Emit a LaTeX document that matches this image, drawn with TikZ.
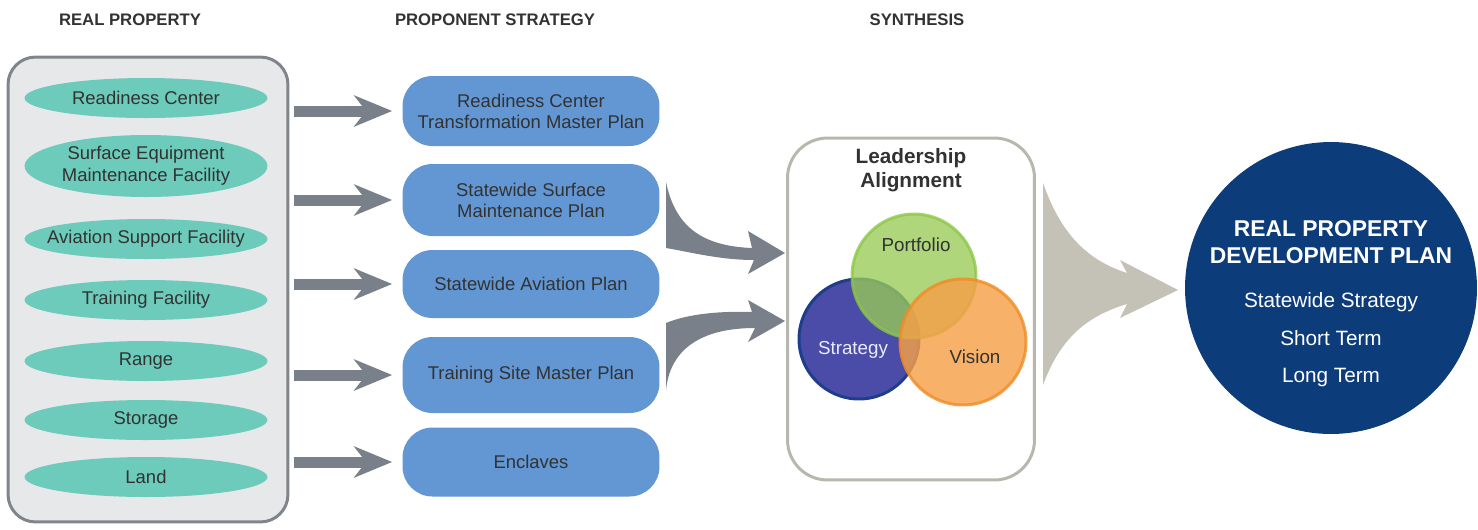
\documentclass[tikz,border=0pt]{standalone}
\usepackage{fontspec}
\setmainfont{Liberation Sans}
\usetikzlibrary{shapes.geometric,arrows.meta}

\definecolor{boxgray}{RGB}{231,232,234}
\definecolor{edgegray}{RGB}{128,133,140}
\definecolor{facteal}{RGB}{108,203,186}
\definecolor{planblue}{RGB}{98,151,212}
\definecolor{arrowgray}{RGB}{122,128,137}
\definecolor{synedge}{RGB}{184,183,174}
\definecolor{beige}{RGB}{196,194,182}
\definecolor{navy}{RGB}{13,60,122}
\definecolor{portfill}{RGB}{152,202,86}
\definecolor{portedge}{RGB}{140,198,70}
\definecolor{stratfill}{RGB}{74,76,168}
\definecolor{stratedge}{RGB}{30,62,140}
\definecolor{visfill}{RGB}{246,160,72}
\definecolor{visedge}{RGB}{240,140,40}
\definecolor{textgray}{RGB}{50,50,50}

\tikzset{
  header/.style={font=\fontsize{9.5}{11}\selectfont\bfseries, text=textgray},
  facility/.style={ellipse, fill=facteal, minimum width=4.86cm, minimum height=0.8cm,
    inner xsep=-0.6cm, inner ysep=0pt, align=center, text=textgray,
    font=\fontsize{10.5}{12.5}\selectfont},
  plan/.style={rectangle, rounded corners=0.6cm, fill=planblue, minimum width=5.14cm,
    minimum height=1.4cm, align=center, text=textgray, font=\fontsize{10.5}{12}\selectfont},
  feed/.style={arrowgray, line width=0.22cm,
    -{Stealth[length=0.76cm, width=0.62cm, inset=0.24cm]}, shorten <=0.1cm, shorten >=0.2cm},
  venn/.style={circle, line width=1.7pt, inner sep=0pt},
  venntext/.style={font=\fontsize{10.7}{12}\selectfont},
  horizon/.style={text=white, font=\fontsize{11.8}{14}\selectfont},
}

\begin{document}
\begin{tikzpicture}[x=0.02cm, y=-0.02cm]
    \useasboundingbox (0,0) rectangle (1478,529);

    % Column headings
    \node[header] (hprop) at (130,20) {REAL PROPERTY};
    \node[header] (hstrat) at (495,20) {PROPONENT STRATEGY};
    \node[header] (hsyn) at (917,20) {SYNTHESIS};

    % Real property types
    \node[draw=edgegray, fill=boxgray, line width=1.7pt, rounded corners=0.55cm,
          minimum width=5.6cm, minimum height=9.3cm] (lbox) at (148,289.5) {};
    \node[facility] (f1) at (146,98) {Readiness Center};
    \node[facility, minimum height=1.24cm] (f2) at (146,166) {Surface Equipment\\Maintenance Facility};
    \node[facility] (f3) at (146,239) {Aviation Support Facility};
    \node[facility] (f4) at (146,300) {Training Facility};
    \node[facility] (f5) at (146,361) {Range};
    \node[facility] (f6) at (146,420) {Storage};
    \node[facility] (f7) at (146,477) {Land};

    % Proponent plans
    \node[plan] (b1) at (531,111) {Readiness Center\\Transformation Master Plan};
    \node[plan, minimum height=1.44cm] (b2) at (531,200) {Statewide Surface\\Maintenance Plan};
    \node[plan, minimum height=1.36cm] (b3) at (531,284) {Statewide Aviation Plan};
    \node[plan, minimum height=1.52cm] (b4) at (531,375) {Training Site Master Plan};
    \node[plan, minimum height=1.38cm] (b5) at (531,462) {Enclaves};

    % Feeds into the plans
    \foreach \b in {b1,b2,b3,b4,b5}
        \draw[feed] (lbox.east |- \b.west) -- (\b.west);

    % Merge arrows
    \fill[arrowgray] (666,182) .. controls (675,225) and (700,246) .. (752,248)
        -- (748,231) -- (785,253) -- (748,274) -- (754,260)
        .. controls (720,260) and (690,252) .. (666,248) -- cycle;
    \fill[arrowgray] (666,323) .. controls (690,313) and (725,311) .. (752,312)
        -- (748,300) -- (785,321) -- (748,342) -- (755,328)
        .. controls (700,328) and (670,350) .. (666,390) -- cycle;

    % Synthesis
    \node[draw=synedge, line width=1.7pt, rounded corners=0.8cm,
          minimum width=4.94cm, minimum height=6.84cm] (syn) at (911,309) {};
    \node[font=\fontsize{11.8}{13.6}\selectfont\bfseries, text=textgray, align=center] (lead) at (911,170)
        {Leadership\\Alignment};

    \node[venn, draw=stratedge, fill=stratfill, minimum size=2.4cm] (strategy) at (859,339) {};
    \node[venn, draw=portedge, fill=portfill, opacity=0.78, minimum size=2.48cm] (portfolio) at (914,276) {};
    \node[venn, draw=visedge, fill=visfill, opacity=0.82, minimum size=2.52cm] (vision) at (963,342) {};
    \node[venntext, text=textgray] (tport) at (916,245) {Portfolio};
    \node[venntext, text=white!92!blue] (tstrat) at (853,350) {Strategy};
    \node[venntext, text=textgray] (tvis) at (975,357) {Vision};

    % Into the plan
    \fill[beige] (1043,183) .. controls (1058,225) and (1080,258) .. (1127,273)
        -- (1120,260) -- (1178,290) -- (1120,318) -- (1127,304)
        .. controls (1080,318) and (1058,345) .. (1043,385) -- cycle;

    % Development plan
    \node[circle, fill=navy, minimum size=5.84cm, inner sep=0pt] (plan) at (1331,288) {};
    \node[font=\fontsize{13}{15.3}\selectfont\bfseries, text=white, align=center] (ptitle) at (1331,242)
        {REAL PROPERTY\\DEVELOPMENT PLAN};
    \node[horizon] (hz1) at (1331,302) {Statewide Strategy};
    \node[horizon] (hz2) at (1331,338) {Short Term};
    \node[horizon] (hz3) at (1331,378) {Long Term};
\end{tikzpicture}
\end{document}
